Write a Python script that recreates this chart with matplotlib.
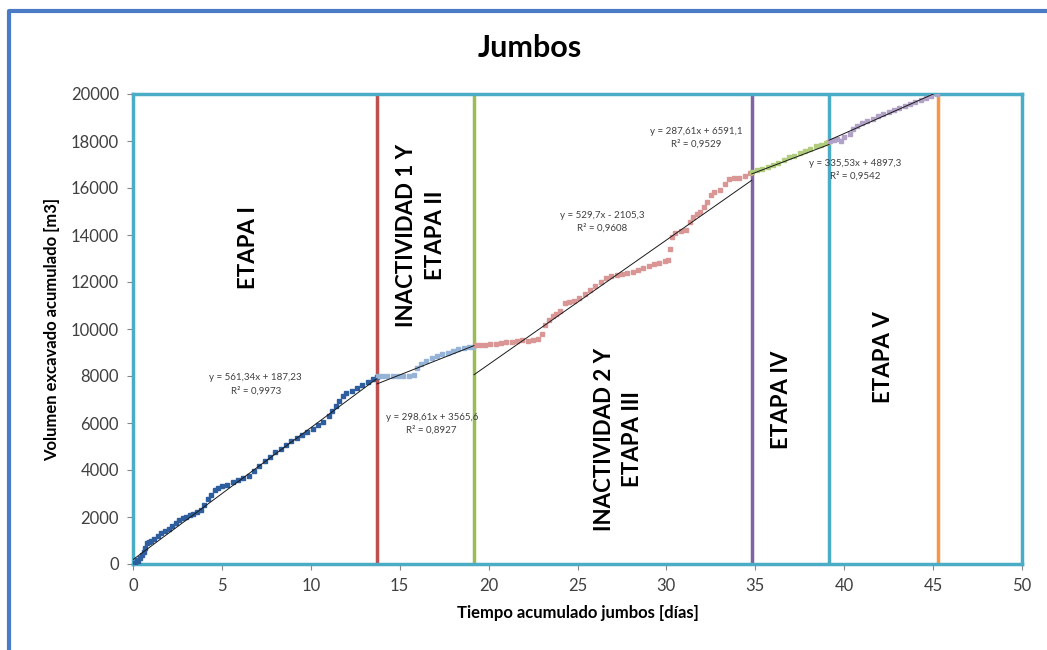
import matplotlib
matplotlib.use("Agg")
import matplotlib.pyplot as plt
from matplotlib.lines import Line2D

plt.rcParams['font.family'] = ['Lato', 'DejaVu Sans']

# Accumulated excavation volume per stage: time [days], volume [m3]
etapa1_t = [0.0, 0.1, 0.2, 0.3, 0.4, 0.5, 0.6, 0.7, 0.8, 0.9, 1.0, 1.2, 1.4, 1.6, 1.8, 2.0,
            2.2, 2.4, 2.6, 2.8, 3.0, 3.2, 3.4, 3.6, 3.8, 4.0, 4.2, 4.4, 4.6, 4.8, 5.0, 5.3,
            5.6, 5.9, 6.2, 6.5, 6.8, 7.1, 7.4, 7.7, 8.0, 8.3, 8.6, 8.9, 9.2, 9.5, 9.8, 10.1,
            10.4, 10.7, 11.0, 11.2, 11.4, 11.6, 11.8, 12.0, 12.3, 12.6, 12.9, 13.2, 13.5, 13.7]
etapa1_v = [0, 60, 150, 120, 260, 380, 520, 700, 880, 950, 1000, 1080, 1180, 1300, 1420, 1500,
            1620, 1760, 1880, 1950, 2020, 2080, 2120, 2200, 2300, 2520, 2750, 2950, 3150, 3230, 3300, 3380,
            3480, 3580, 3660, 3760, 3950, 4180, 4380, 4560, 4780, 4900, 5080, 5220, 5380, 5480, 5620, 5760,
            5930, 6050, 6300, 6530, 6720, 6950, 7150, 7260, 7350, 7480, 7600, 7760, 7880, 7960]

etapa2_t = [13.8, 14.0, 14.3, 14.6, 14.9, 15.2, 15.5, 15.8, 16.0, 16.2, 16.5, 16.8, 17.1, 17.4,
            17.7, 18.0, 18.3, 18.6, 18.9, 19.1]
etapa2_v = [8000, 8020, 8010, 8000, 7990, 7980, 7990, 8050, 8350, 8520, 8620, 8780, 8860, 8920,
            8990, 9080, 9170, 9200, 9230, 9250]

etapa3_t = [19.3, 19.5, 19.8, 20.1, 20.4, 20.7, 21.0, 21.3, 21.6, 21.9, 22.2, 22.5, 22.8, 23.0,
            23.2, 23.4, 23.6, 23.8, 24.0, 24.3, 24.5, 24.8, 25.1, 25.4, 25.7, 26.0, 26.3, 26.6,
            26.9, 27.2, 27.5, 27.8, 28.1, 28.4, 28.7, 29.0, 29.3, 29.6, 29.9, 30.1, 30.2, 30.3,
            30.5, 30.8, 31.1, 31.3, 31.5, 31.7, 31.9, 32.1, 32.3, 32.5, 32.7, 33.0, 33.3, 33.5,
            33.8, 34.1, 34.4, 34.7]
etapa3_v = [9320, 9330, 9320, 9350, 9370, 9400, 9440, 9460, 9500, 9520, 9510, 9530, 9560, 9800,
            10150, 10400, 10550, 10650, 10750, 11100, 11150, 11200, 11330, 11500, 11680, 11850, 12000, 12150,
            12250, 12300, 12340, 12380, 12420, 12500, 12600, 12680, 12760, 12820, 12880, 12950, 13400, 13900,
            14100, 14150, 14220, 14550, 14750, 14900, 15000, 15200, 15400, 15700, 15830, 15900, 16150, 16380,
            16420, 16440, 16500, 16640]

etapa4_t = [34.8, 35.1, 35.4, 35.7, 36.0, 36.3, 36.6, 36.9, 37.2, 37.5, 37.8, 38.1, 38.4, 38.7,
            39.0, 39.1]
etapa4_v = [16680, 16760, 16820, 16880, 16990, 17080, 17200, 17310, 17380, 17480, 17560, 17680,
            17780, 17820, 17900, 17950]

etapa5_t = [39.2, 39.4, 39.6, 39.8, 40.0, 40.3, 40.5, 40.7, 41.0, 41.3, 41.6, 41.9, 42.2, 42.5,
            42.8, 43.1, 43.4, 43.7, 44.0, 44.3, 44.6, 44.9, 45.2]
etapa5_v = [18000, 18040, 18080, 18020, 18150, 18300, 18500, 18650, 18780, 18850, 18920, 19050,
            19150, 19220, 19300, 19400, 19500, 19560, 19640, 19740, 19850, 19930, 19990]

# Linear fits per stage: slope, intercept, R², fitted range, label position
fit_slope = [561.34, 298.61, 529.7, 287.61, 335.53]
fit_intercept = [187.23, 3565.6, -2105.3, 6591.1, 4897.3]
fit_r2 = ["0,9973", "0,8927", "0,9608", "0,9529", "0,9542"]
fit_range = [(0.0, 13.72), (13.72, 19.18), (19.18, 34.8), (34.8, 39.15), (39.15, 45.3)]
fit_label_pos = [(6.9, 7650), (16.8, 5950), (26.4, 14550), (31.7, 18120), (40.6, 16760)]

# Stage boundaries
limites_t = [13.72, 19.18, 34.8, 39.15, 45.3]
limites_col = ['#C0504D', '#9BBB59', '#8064A2', '#4BACC6', '#F79646']

etapa_labels = ["ETAPA I", "INACTIVIDAD 1 Y\nETAPA II", "INACTIVIDAD 2 Y\nETAPA III",
                "ETAPA IV", "ETAPA V"]
etapa_label_pos = [(6.5, 13450), (16.2, 14000), (27.3, 5300), (36.5, 6980), (42.2, 8800)]

series = [(etapa1_t, etapa1_v, '#2E5E9E'), (etapa2_t, etapa2_v, '#95B3D7'),
          (etapa3_t, etapa3_v, '#D99694'), (etapa4_t, etapa4_v, '#B0CC7C'),
          (etapa5_t, etapa5_v, '#B3A2C7')]

fig = plt.figure(figsize=(10.47, 6.5), dpi=100)
ax = fig.add_axes([133 / 1047, 1 - 564 / 650, (1022 - 133) / 1047, (564 - 94) / 650])

for t, v, c in series:
    ax.plot(t, v, linestyle='none', marker='s', ms=3.2, color=c, mec=c, zorder=3)

for m, b, (x0, x1) in zip(fit_slope, fit_intercept, fit_range):
    ax.plot([x0, x1], [m * x0 + b, m * x1 + b], color='#1a1a1a', lw=0.7, zorder=4)

for (m, b, r2), (tx, ty) in zip(zip(fit_slope, fit_intercept, fit_r2), fit_label_pos):
    sign = '+' if b >= 0 else '-'
    txt = f"y = {m:.2f}".replace('.', ',').rstrip('0').rstrip(',') + \
          f"x {sign} " + f"{abs(b)}".replace('.', ',') + f"\nR² = {r2}"
    ax.text(tx, ty, txt, ha='center', va='center', fontsize=7, color='#404040',
            linespacing=1.5, zorder=5)

for xv, c in zip(limites_t, limites_col):
    ax.axvline(xv, color=c, lw=2.5, zorder=2)

for lab, (tx, ty) in zip(etapa_labels, etapa_label_pos):
    ax.text(tx, ty, lab, rotation=90, ha='center', va='center', fontsize=16,
            fontweight='bold', color='black', linespacing=1.45)

ax.set_xlim(0, 50)
ax.set_ylim(0, 20000)
ax.set_xticks(range(0, 51, 5))
ax.set_yticks(range(0, 20001, 2000))
ax.tick_params(direction='out', length=4, color='#888888', labelsize=12,
               labelcolor='#404040', pad=6)
for s in ax.spines.values():
    s.set_color('#4BACC6')
    s.set_linewidth(2.5)

ax.set_xlabel("Tiempo acumulado jumbos [días]", fontsize=12, fontweight='bold', labelpad=8)
ax.set_ylabel("Volumen excavado acumulado [m3]", fontsize=12, fontweight='bold', labelpad=8)
fig.text(530 / 1047, 1 - 48 / 650, "Jumbos", ha='center', va='center', fontsize=22,
         fontweight='bold')

# Chart-area frame along the top and left edges
fx, fy = 9 / 1047, 1 - 11 / 650
fig.add_artist(Line2D([fx, fx, 1.0], [0.0, fy, fy], transform=fig.transFigure,
                      color='#4A7BC4', lw=3))

fig.savefig("out.png", dpi=100, facecolor='white')
